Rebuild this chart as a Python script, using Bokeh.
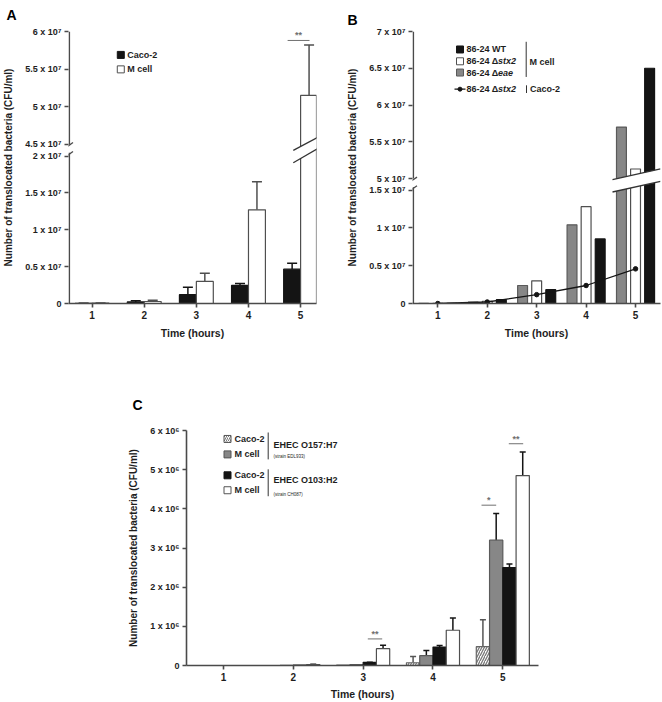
import numpy as np
from bokeh.plotting import figure
from bokeh.models import (Range1d, LinearAxis, FixedTicker, Whisker, TeeHead,
                          ColumnDataSource)
from bokeh.layouts import column, row
from bokeh.embed import file_html
from bokeh.resources import INLINE
from bokeh.core.properties import value

FONT = "Liberation Sans"
AXC = "#4a4a4a"
BLACK = "#141414"
GRAY = "#878787"
EDGE = "#4f4f4f"
SIG = "#707070"
TXT = "#1e1e1e"

# ---------------- data ----------------
hours = [1, 2, 3, 4, 5]
y_title = "Number of translocated bacteria (CFU/ml)"
x_title = "Time (hours)"

# Panel A
a_caco2 = [0.002e7, 0.022e7, 0.12e7, 0.245e7, 0.465e7]
a_caco2_err = [0.001e7, 0.016e7, 0.10e7, 0.025e7, 0.08e7]
a_mcell = [0.004e7, 0.027e7, 0.30e7, 1.27e7, 5.15e7]
a_mcell_err = [0.002e7, 0.016e7, 0.11e7, 0.38e7, 0.67e7]
a_lower_ticks = [0, 0.5e7, 1e7, 1.5e7, 2e7]
a_lower_labels = ["0", "0.5 x 10⁷", "1 x 10⁷", "1.5 x 10⁷", "2 x 10⁷"]
a_upper_ticks = [4.5e7, 5e7, 5.5e7, 6e7]
a_upper_labels = ["4.5 x 10⁷", "5 x 10⁷", "5.5 x 10⁷", "6 x 10⁷"]

# Panel B
b_wt = [0.003e7, 0.05e7, 0.183e7, 0.854e7, 6.5e7]
b_stx2 = [0.002e7, 0.03e7, 0.30e7, 1.28e7, 5.13e7]
b_eae = [0.001e7, 0.017e7, 0.238e7, 1.04e7, 5.70e7]
b_caco2_stx2 = [0.0, 0.02e7, 0.117e7, 0.238e7, 0.458e7]
b_lower_ticks = [0, 0.5e7, 1e7, 1.5e7]
b_lower_labels = ["0", "0.5 x 10⁷", "1 x 10⁷", "1.5 x 10⁷"]
b_upper_ticks = [5e7, 5.5e7, 6e7, 6.5e7, 7e7]
b_upper_labels = ["5 x 10⁷", "5.5 x 10⁷", "6 x 10⁷", "6.5 x 10⁷", "7 x 10⁷"]

# Panel C
c_caco2_o157 = [0, 0, 0.01e6, 0.07e6, 0.48e6]
c_caco2_o157_err = [0, 0, 0, 0.16e6, 0.69e6]
c_mcell_o157 = [0, 0.005e6, 0.02e6, 0.25e6, 3.2e6]
c_mcell_o157_err = [0, 0, 0, 0.135e6, 0.68e6]
c_caco2_o103 = [0, 0.01e6, 0.08e6, 0.47e6, 2.5e6]
c_caco2_o103_err = [0, 0, 0.005e6, 0.04e6, 0.09e6]
c_mcell_o103 = [0, 0.025e6, 0.43e6, 0.9e6, 4.85e6]
c_mcell_o103_err = [0, 0.005e6, 0.085e6, 0.31e6, 0.6e6]
c_ticks = [0, 1e6, 2e6, 3e6, 4e6, 5e6, 6e6]
c_labels = ["0", "1 x 10⁶", "2 x 10⁶", "3 x 10⁶", "4 x 10⁶", "5 x 10⁶", "6 x 10⁶"]


# ---------------- helpers ----------------
def lin(p0, p1, v0, v1, p):
    return v0 + (p - p0) / (p1 - p0) * (v1 - v0)


def make_panel(canvas, frame, xr, yr, letter, letter_left, letter_top):
    cx, cy, w, h = canvas
    l, t, r, b = frame
    p = figure(width=w, height=h, x_range=Range1d(*xr), y_range=Range1d(*yr),
               output_backend="svg", toolbar_location=None, y_axis_location=None,
               min_border_left=int(l - cx), min_border_right=int(cx + w - r),
               min_border_top=int(t - cy), min_border_bottom=int(cy + h - b))
    p.grid.visible = False
    p.outline_line_color = None
    p.background_fill_color = "white"
    p.border_fill_color = "white"
    # panel letter as the figure title
    p.title.text = letter
    p.title.align = "left"
    p.title.offset = letter_left - l
    p.title.vertical_align = "top"
    p.title.standoff = int(t - letter_top - 16)
    p.title.text_font = FONT
    p.title.text_font_size = "14px"
    p.title.text_font_style = "bold"
    p.title.text_color = "black"
    dx = lambda px: lin(l, r, xr[0], xr[1], px)
    dy = lambda py: lin(b, t, yr[0], yr[1], py)
    return p, dx, dy


def style_axis(ax, label_size="9px", tick_out=4, standoff=3):
    ax.axis_line_color = AXC
    ax.axis_line_width = 1.6
    ax.major_tick_line_color = AXC
    ax.major_tick_line_width = 1.6
    ax.major_tick_out = tick_out
    ax.major_tick_in = 0
    ax.minor_tick_line_color = None
    ax.major_label_text_font = FONT
    ax.major_label_text_font_style = "bold"
    ax.major_label_text_font_size = label_size
    ax.major_label_text_color = TXT
    ax.major_label_standoff = standoff
    ax.axis_label_text_font = FONT
    ax.axis_label_text_font_style = "bold"
    ax.axis_label_text_font_size = "10px"
    ax.axis_label_text_color = TXT


def style_x(p, label_standoff=5, tick_out=4, standoff=3):
    ax = p.xaxis[0]
    ax.ticker = FixedTicker(ticks=hours)
    style_axis(ax, "10px", tick_out, standoff)
    ax.axis_label = x_title
    ax.axis_label_text_font_size = "10.5px"
    ax.axis_label_standoff = label_standoff


def add_broken_yaxis(p, lo_ticks, lo_labels, up_ticks, up_labels, up_to_lo, label):
    # ticks of the upper segment sit where the "up" range puts them
    up_pos = [up_to_lo(v) for v in up_ticks]
    ticks = [float(t) for t in lo_ticks] + up_pos
    labels = list(lo_labels) + list(up_labels)
    ax = LinearAxis(ticker=FixedTicker(ticks=ticks),
                    major_label_overrides={t: s for t, s in zip(ticks, labels)})
    style_axis(ax)
    ax.axis_line_color = None
    ax.axis_label = label
    ax.axis_label_standoff = 8
    p.add_layout(ax, "left")
    return ax


def axis_rule(p, xpos, y0, y1, range_name="default"):
    p.segment(x0=[xpos], y0=[y0], x1=[xpos], y1=[y1], line_color=AXC, line_width=1.6,
              y_range_name=range_name)


def draw_bars(p, x, vals, width, fill, line, lo_clip=None, up_clip=None, hatch=None):
    v = np.asarray(vals, dtype=float)
    xs = np.asarray(x, dtype=float)
    kw = dict(width=width, fill_color=fill, line_color=line, line_width=1.2)
    if hatch:
        kw.update(hatch_pattern=hatch, hatch_color="#7a7a7a", hatch_scale=5, hatch_weight=1.3)
    top = v if lo_clip is None else np.minimum(v, lo_clip)
    p.vbar(x=xs, bottom=0, top=top, **kw)
    if up_clip is not None:
        top_up = np.where(v > up_clip, v, np.nan)
        p.vbar(x=xs, bottom=up_clip, top=top_up, y_range_name="up", **kw)


def draw_err(p, x, vals, errs, color, cap, range_name="default", mask=None):
    v = np.asarray(vals, float)
    e = np.asarray(errs, float)
    xs = np.asarray(x, float)
    keep = e > 0
    if mask is not None:
        keep = keep & mask
    if not keep.any():
        return
    src = ColumnDataSource(dict(base=xs[keep], lower=v[keep], upper=(v + e)[keep]))
    w = Whisker(source=src, base="base", lower="lower", upper="upper", dimension="height",
                line_color=color, line_width=1.5, lower_head=None,
                upper_head=TeeHead(size=cap, line_color=color, line_width=1.5),
                y_range_name=range_name)
    p.add_layout(w)


def txt(p, x, y, s, size="9px", style="bold", color=TXT, align="left"):
    p.text(x=[x], y=[y], text=[s], text_font=value(FONT), text_font_style=style,
           text_font_size=size, text_color=color, text_align=align, text_baseline="middle")


def square(p, x, y, fill, line, hatch=None):
    kw = {}
    if hatch:
        kw = dict(hatch_pattern=hatch, hatch_color="#7a7a7a", hatch_scale=4, hatch_weight=1)
    p.rect(x=[x], y=[y], width=7, height=7, width_units="screen", height_units="screen",
           fill_color=fill, line_color=line, line_width=1, **kw)


def brk(p, dx, dy, pts, width=1.3, color=AXC):
    (x0, y0), (x1, y1) = pts
    p.segment(x0=[dx(x0)], y0=[dy(y0)], x1=[dx(x1)], y1=[dy(y1)], line_color=color, line_width=width)


def break_patch(p, dx, dy, upper, lower):
    (ux0, uy0), (ux1, uy1) = upper
    (lx0, ly0), (lx1, ly1) = lower
    p.patch(x=[dx(ux0), dx(ux1), dx(lx1), dx(lx0)], y=[dy(uy0), dy(uy1), dy(ly1), dy(ly0)],
            fill_color="white", line_color=None)
    brk(p, dx, dy, upper, 1.3, "#333333")
    brk(p, dx, dy, lower, 1.3, "#333333")


def sig(p, dx, dy, x0, x1, y, s):
    p.segment(x0=[dx(x0)], y0=[dy(y)], x1=[dx(x1)], y1=[dy(y)], line_color=SIG, line_width=1)
    txt(p, dx((x0 + x1) / 2), dy(y - 5), s, "9px", "bold", SIG, "center")


hx = np.asarray(hours, dtype=float)

# ================= Panel A =================
A_CANVAS = (0, 0, 336, 341)
A_FRAME = (67, 30, 316, 303)
A_X = (0.547, 5.305)
A_Y = (0, 3.689e7)
A_UP = (2.386e7, 6e7)
pA, ax_, ay_ = make_panel(A_CANVAS, A_FRAME, A_X, A_Y, "A", 5, 1)
pA.extra_y_ranges = {"up": Range1d(*A_UP)}
a_up = lambda py: lin(303, 30, A_UP[0], A_UP[1], py)
a_up_to_lo = lambda v: lin(A_UP[0], A_UP[1], A_Y[0], A_Y[1], v)
A_LO = ay_(147)
A_HI = a_up(147)

draw_bars(pA, hx - 0.1625, a_caco2, 0.325, BLACK, BLACK, A_LO, A_HI)
draw_bars(pA, hx + 0.1625, a_mcell, 0.325, "white", EDGE, A_LO, A_HI)
for vals, errs, col, off in [(a_caco2, a_caco2_err, BLACK, -0.1625), (a_mcell, a_mcell_err, EDGE, 0.1625)]:
    v = np.asarray(vals); e = np.asarray(errs)
    draw_err(pA, hx + off, vals, errs, col, 10, "default", (v + e) <= A_LO)
    draw_err(pA, hx + off, vals, errs, col, 10, "up", v > A_HI)

break_patch(pA, ax_, ay_, ((292.7, 149.3), (322.7, 133.3)), ((292.7, 161.7), (322.7, 144.3)))
add_broken_yaxis(pA, a_lower_ticks, a_lower_labels, a_upper_ticks, a_upper_labels, a_up_to_lo, y_title)
axis_rule(pA, ax_(67.8), 0, ay_(151.7))
axis_rule(pA, ax_(67.8), a_upper_ticks[0], a_upper_ticks[-1], "up")
brk(pA, ax_, ay_, ((64.5, 146.5), (71.5, 141.5)))
brk(pA, ax_, ay_, ((64.5, 155.5), (71.5, 150.5)))
sig(pA, ax_, ay_, 287, 309, 39, "**")
style_x(pA)

square(pA, ax_(119.5), ay_(53.5), BLACK, BLACK)
txt(pA, ax_(126), ay_(53.5), "Caco-2")
square(pA, ax_(119.5), ay_(68), "white", EDGE)
txt(pA, ax_(126), ay_(68), "M cell")

# ================= Panel B =================
B_CANVAS = (336, 0, 326, 341)
B_FRAME = (412, 21, 660, 304)
B_X = (0.488, 5.505)
B_Y = (0, 3.597e7)
B_UP = (3.301e7, 7e7)
pB, bx_, by_ = make_panel(B_CANVAS, B_FRAME, B_X, B_Y, "B", 347, 1)
pB.extra_y_ranges = {"up": Range1d(*B_UP)}
b_up = lambda py: lin(304, 21, B_UP[0], B_UP[1], py)
b_up_to_lo = lambda v: lin(B_UP[0], B_UP[1], B_Y[0], B_Y[1], v)
B_LO = by_(177)
B_HI = b_up(177)

draw_bars(pB, hx - 0.285, b_eae, 0.2, GRAY, "#5a5a5a", B_LO, B_HI)
draw_bars(pB, hx, b_stx2, 0.2, "white", EDGE, B_LO, B_HI)
draw_bars(pB, hx + 0.285, b_wt, 0.2, BLACK, BLACK, B_LO, B_HI)
break_patch(pB, bx_, by_, ((612, 175), (660, 164)), ((612, 188), (660, 177)))
pB.line(hours, b_caco2_stx2, line_color=BLACK, line_width=1.3)
pB.scatter(hours, b_caco2_stx2, size=4.5, marker="circle", fill_color=BLACK, line_color=BLACK)

add_broken_yaxis(pB, b_lower_ticks, b_lower_labels, b_upper_ticks, b_upper_labels, b_up_to_lo, y_title)
axis_rule(pB, bx_(412.8), 0, by_(183))
axis_rule(pB, bx_(412.8), b_upper_ticks[0], b_upper_ticks[-1], "up")
brk(pB, bx_, by_, ((409.5, 177.5), (416.5, 172.5)))
brk(pB, bx_, by_, ((409.5, 186.5), (416.5, 181.5)))
style_x(pB)

square(pB, bx_(459.5), by_(39.7), BLACK, BLACK)
txt(pB, bx_(466), by_(39.7), "86-24 WT")
square(pB, bx_(459.5), by_(52), "white", EDGE)
txt(pB, bx_(466), by_(52), "86-24 Δ")
txt(pB, bx_(497.5), by_(52), "stx2", style="bold italic")
square(pB, bx_(459.5), by_(63.7), GRAY, "#5a5a5a")
txt(pB, bx_(466), by_(63.7), "86-24 Δ")
txt(pB, bx_(497.5), by_(63.7), "eae", style="bold italic")
pB.line([bx_(454), bx_(465)], [by_(81), by_(81)], line_color=BLACK, line_width=1.2)
pB.scatter([bx_(459.5)], [by_(81)], size=4, marker="circle", fill_color=BLACK, line_color=BLACK)
txt(pB, bx_(466), by_(81), "86-24 Δ")
txt(pB, bx_(497.5), by_(81), "stx2", style="bold italic")
brk(pB, bx_, by_, ((525.7, 31.7), (525.7, 68.3)), 1.0, "#333333")
txt(pB, bx_(529), by_(52.3), "M cell")
brk(pB, bx_, by_, ((526, 77), (526, 85)), 1.0, "#333333")
txt(pB, bx_(529.5), by_(81), "Caco-2")

# ================= Panel C =================
C_CANVAS = (0, 341, 662, 361)
C_FRAME = (186, 430, 538, 666)
C_X = (0.470, 5.511)
C_Y = (0, 6e6)
pC, cx_, cy_ = make_panel(C_CANVAS, C_FRAME, C_X, C_Y, "C", 132, 383)
w = 0.19
draw_bars(pC, hx - 1.5 * w, c_caco2_o157, w, "white", "#666666", hatch="/")
draw_bars(pC, hx - 0.5 * w, c_mcell_o157, w, GRAY, "#5a5a5a")
draw_bars(pC, hx + 0.5 * w, c_caco2_o103, w, BLACK, BLACK)
draw_bars(pC, hx + 1.5 * w, c_mcell_o103, w, "white", EDGE)
draw_err(pC, hx - 1.5 * w, c_caco2_o157, c_caco2_o157_err, "#555555", 6)
draw_err(pC, hx - 0.5 * w, c_mcell_o157, c_mcell_o157_err, BLACK, 6)
draw_err(pC, hx + 0.5 * w, c_caco2_o103, c_caco2_o103_err, BLACK, 6)
draw_err(pC, hx + 1.5 * w, c_mcell_o103, c_mcell_o103_err, BLACK, 6)

sig(pC, cx_, cy_, 367.3, 381.7, 639.3, "**")
sig(pC, cx_, cy_, 481, 495.7, 505, "*")
sig(pC, cx_, cy_, 508.3, 522.7, 443.3, "**")

axC = LinearAxis(ticker=FixedTicker(ticks=c_ticks),
                 major_label_overrides={t: s for t, s in zip(c_ticks, c_labels)})
style_axis(axC)
axC.axis_label = y_title
axC.axis_label_standoff = 8
pC.add_layout(axC, "left")
style_x(pC, label_standoff=4, tick_out=4, standoff=3)

square(pC, cx_(227), cy_(438.5), "white", "#555555", hatch="/")
txt(pC, cx_(234), cy_(438.5), "Caco-2")
square(pC, cx_(227), cy_(454), GRAY, "#555555")
txt(pC, cx_(234), cy_(454), "M cell")
square(pC, cx_(227), cy_(475), BLACK, BLACK)
txt(pC, cx_(234), cy_(475), "Caco-2")
square(pC, cx_(227), cy_(490), "white", "#555555")
txt(pC, cx_(234), cy_(490), "M cell")
brk(pC, cx_, cy_, ((267.7, 432), (267.7, 459)), 1.0, "#333333")
brk(pC, cx_, cy_, ((267.7, 469), (267.7, 496)), 1.0, "#333333")
txt(pC, cx_(273), cy_(445), "EHEC O157:H7")
txt(pC, cx_(273), cy_(456.5), "(strain EDL933)", size="4.5px", style="normal")
txt(pC, cx_(273), cy_(480), "EHEC O103:H2")
txt(pC, cx_(273), cy_(494), "(strain CH087)", size="4.5px", style="normal")

layout = column(row(pA, pB), pC)
open("out.html", "w").write(file_html(layout, INLINE, title="Translocated bacteria"))
